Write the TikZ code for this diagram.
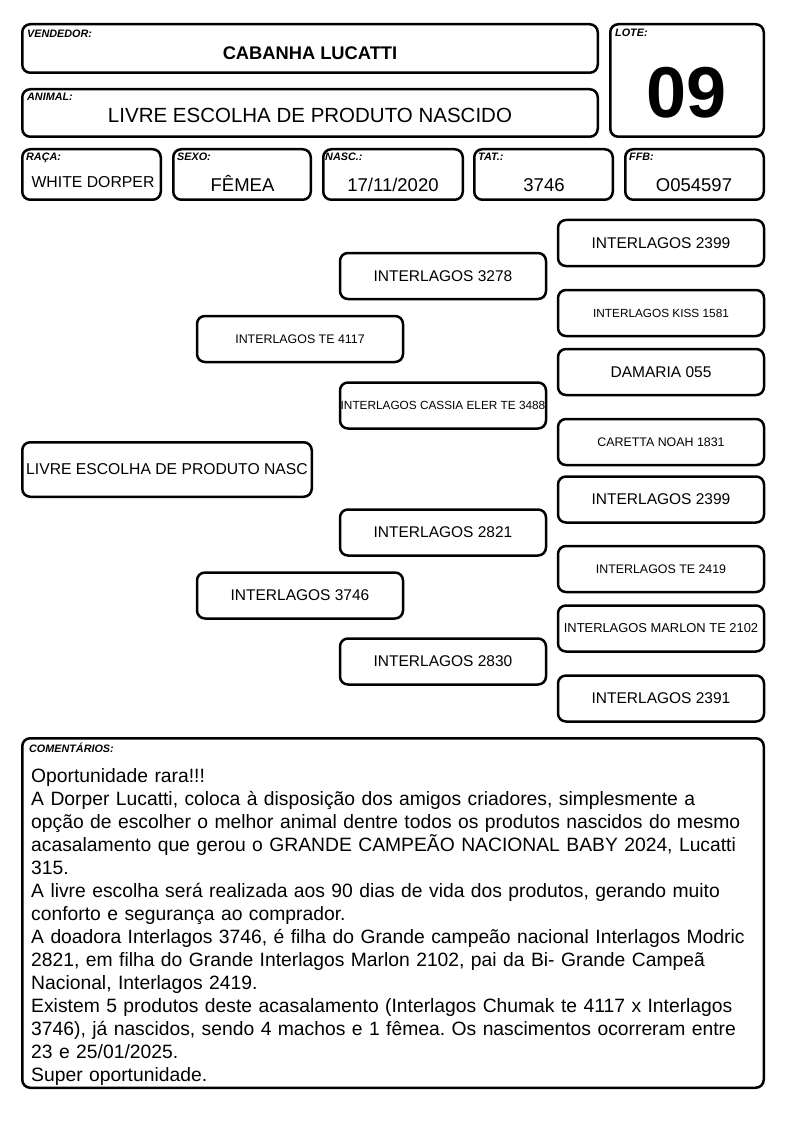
\documentclass[tikz,border=0pt]{standalone}
\usepackage{fontspec}
\setmainfont{Liberation Sans}
\usetikzlibrary{positioning}

\newcommand{\lblfont}{\fontsize{10.8}{12}\selectfont\bfseries\itshape}
\newcommand{\pedbig}{\fontsize{15.5}{18}\selectfont}
\newcommand{\pedsmall}{\fontsize{12.4}{15}\selectfont}

\begin{document}
\begin{tikzpicture}[
    x=1pt, y=-1pt,
    card/.style={rectangle, draw, rounded corners=8pt, line width=2.5pt, inner sep=0pt},
    lbl/.style={anchor=base west, inner sep=0pt, font=\lblfont},
    val/.style={anchor=base, inner sep=0pt, font=\fontsize{18.5}{22}\selectfont},
    ped/.style={card, minimum width=206pt, minimum height=46pt, font=\pedbig},
    pedsm/.style={ped, font=\pedsmall}
]
    \useasboundingbox (0,0) rectangle (794,1123);

    % Header
    \node (vend) [card, minimum width=575.5pt, minimum height=48.5pt] at (310,48.5) {};
    \node (lote) [card, minimum width=153.5pt, minimum height=112.5pt] at (687,80.5) {};
    \node (animal) [card, minimum width=575.5pt, minimum height=47.5pt] at (310,113) {};

    \node (raca) [card, minimum width=138.5pt, minimum height=50.5pt] at (91.5,174.5) {};
    \node (sexo) [card, minimum width=137.5pt, minimum height=50.5pt] at (242,174.5) {};
    \node (nasc) [card, minimum width=139.5pt, minimum height=50.5pt] at (393,174.5) {};
    \node (tat) [card, minimum width=138.5pt, minimum height=50.5pt] at (543.5,174.5) {};
    \node (ffb) [card, minimum width=138.5pt, minimum height=50.5pt] at (694.5,174.5) {};

    \node (lvend) [lbl] at ([shift={(6,15)}]vend.north west) {VENDEDOR:};
    \node (llote) [lbl] at ([shift={(6,14)}]lote.north west) {LOTE:};
    \node (lanimal) [lbl] at ([shift={(6,13)}]animal.north west) {ANIMAL:};
    \node (lraca) [lbl] at ([shift={(5,13)}]raca.north west) {RAÇA:};
    \node (lsexo) [lbl] at ([shift={(5,13)}]sexo.north west) {SEXO:};
    \node (lnasc) [lbl] at ([shift={(3,13)}]nasc.north west) {NASC.:};
    \node (ltat) [lbl] at ([shift={(5,13)}]tat.north west) {TAT.:};
    \node (lffb) [lbl] at ([shift={(5,13)}]ffb.north west) {FFB:};

    \node (vendv) [val, font=\fontsize{18.3}{22}\selectfont\bfseries] at (310,60) {CABANHA LUCATTI};
    \node (lotev) [val, font=\fontsize{72}{80}\selectfont\bfseries] at (687,118) {09};
    \node (animalv) [val, font=\fontsize{20.5}{24}\selectfont] at (310,123) {LIVRE ESCOLHA DE PRODUTO NASCIDO};
    \node (racav) [val, font=\fontsize{15.8}{19}\selectfont] at (93,188) {WHITE DORPER};
    \node (sexov) [val] at (242.5,192) {FÊMEA};
    \node (nascv) [val] at (393,192) {17/11/2020};
    \node (tatv) [val] at (544,192) {3746};
    \node (ffbv) [val] at (694,192) {O054597};

    % Pedigree
    \node (prod) [card, minimum width=289.5pt, minimum height=54.5pt, font=\fontsize{15.7}{18}\selectfont] at (167,469.5) {LIVRE ESCOLHA DE PRODUTO NASC};

    \node (sire) [pedsm] at (300,339) {INTERLAGOS TE 4117};
    \node (dam) [ped] at (300,595.5) {INTERLAGOS 3746};

    \node (ss) [ped] at (443,276) {INTERLAGOS 3278};
    \node (sd) [pedsm, font=\fontsize{11.8}{14}\selectfont] at (443,405.5) {INTERLAGOS CASSIA ELER TE 3488};
    \node (ds) [ped] at (443,532.5) {INTERLAGOS 2821};
    \node (dd) [ped] at (443,661.5) {INTERLAGOS 2830};

    \node (sss) [ped] at (661,243) {INTERLAGOS 2399};
    \node (ssd) [pedsm, font=\fontsize{11.8}{14}\selectfont] at (661,313) {INTERLAGOS KISS 1581};
    \node (sds) [ped] at (661,372) {DAMARIA 055};
    \node (sdd) [pedsm] at (661,442) {CARETTA NOAH 1831};
    \node (dss) [ped] at (661,499.5) {INTERLAGOS 2399};
    \node (dsd) [pedsm] at (661,569) {INTERLAGOS TE 2419};
    \node (dds) [pedsm, font=\fontsize{12.9}{15}\selectfont] at (661,628.5) {INTERLAGOS MARLON TE 2102};
    \node (ddd) [ped] at (661,698.5) {INTERLAGOS 2391};

    % Comments
    \node (coment) [card, minimum width=741.5pt, minimum height=349.5pt] at (393,913) {};
    \node (lcoment) [lbl] at ([shift={(8,15)}]coment.north west) {COMENTÁRIOS:};
    \node (comentv) [anchor=base west, inner sep=0pt, text width=755pt, align=left, font=\fontsize{19.3}{23}\selectfont\frenchspacing] at (31,782) {
        Oportunidade rara!!!\\
        A Dorper Lucatti, coloca à disposição dos amigos criadores, simplesmente a\\
        opção de escolher o melhor animal dentre todos os produtos nascidos do mesmo\\
        acasalamento que gerou o GRANDE CAMPEÃO NACIONAL BABY 2024, Lucatti\\
        315.\\
        A livre escolha será realizada aos 90 dias de vida dos produtos, gerando muito\\
        conforto e segurança ao comprador.\\
        A doadora Interlagos 3746, é filha do Grande campeão nacional Interlagos Modric\\
        2821, em filha do Grande Interlagos Marlon 2102, pai da Bi- Grande Campeã\\
        Nacional, Interlagos 2419.\\
        Existem 5 produtos deste acasalamento (Interlagos Chumak te 4117 x Interlagos\\
        3746), já nascidos, sendo 4 machos e 1 fêmea. Os nascimentos ocorreram entre\\
        23 e 25/01/2025.\\
        Super oportunidade.
    };

\end{tikzpicture}
\end{document}
